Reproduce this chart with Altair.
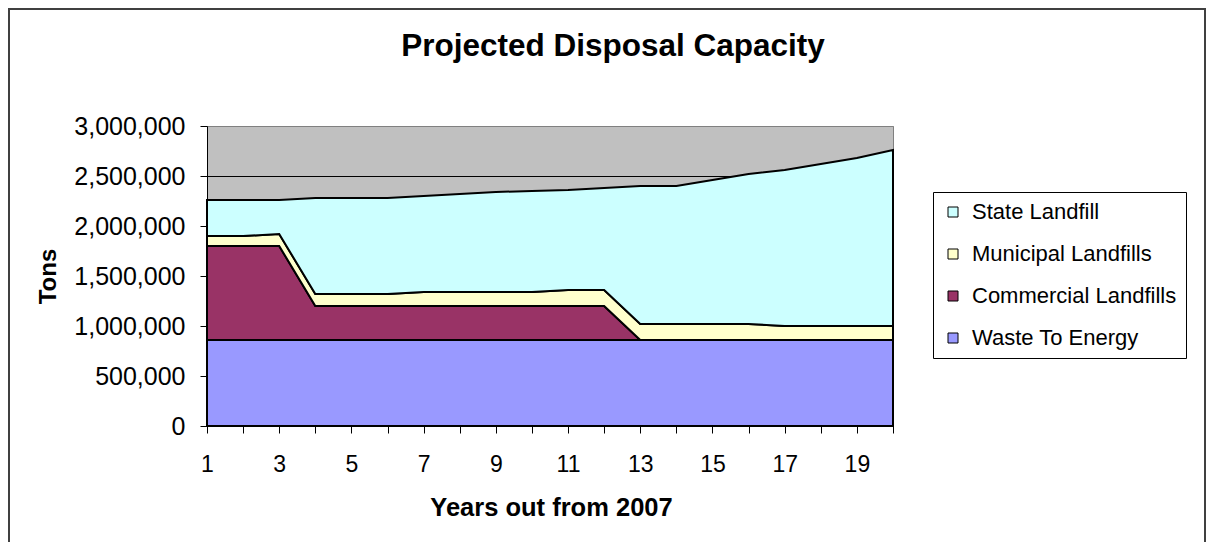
import altair as alt
import pandas as pd

# ---- data ----
years = [1, 2, 3, 4, 5, 6, 7, 8, 9, 10, 11, 12, 13, 14, 15, 16, 17, 18, 19, 20]
waste_to_energy = [860000, 860000, 860000, 860000, 860000, 860000, 860000, 860000, 860000, 860000,
                   860000, 860000, 860000, 860000, 860000, 860000, 860000, 860000, 860000, 860000]
commercial_landfills = [940000, 940000, 940000, 340000, 340000, 340000, 340000, 340000, 340000, 340000,
                        340000, 340000, 0, 0, 0, 0, 0, 0, 0, 0]
municipal_landfills = [100000, 100000, 120000, 120000, 120000, 120000, 140000, 140000, 140000, 140000,
                       160000, 160000, 160000, 160000, 160000, 160000, 140000, 140000, 140000, 140000]
state_landfill = [360000, 360000, 340000, 960000, 960000, 960000, 960000, 980000, 1000000, 1010000,
                  1000000, 1020000, 1380000, 1380000, 1440000, 1500000, 1560000, 1620000, 1680000, 1760000]

series_names = ["State Landfill", "Municipal Landfills", "Commercial Landfills", "Waste To Energy"]
series_colors = ["#CCFFFF", "#FFFFCC", "#993366", "#9999FF"]
y_ticks = [0, 500000, 1000000, 1500000, 2000000, 2500000, 3000000]

title_text = "Projected Disposal Capacity"
x_title = "Years out from 2007"
y_title = "Tons"

FONT = "Liberation Sans, Arial, sans-serif"

series_values = {
    "Waste To Energy": waste_to_energy,
    "Commercial Landfills": commercial_landfills,
    "Municipal Landfills": municipal_landfills,
    "State Landfill": state_landfill,
}
stack_rank = {"Waste To Energy": 0, "Commercial Landfills": 1,
              "Municipal Landfills": 2, "State Landfill": 3}

rows = []
for name, vals in series_values.items():
    for yr, v in zip(years, vals):
        rows.append({"year": yr, "tons": v, "source": name, "rank": stack_rank[name]})
df = pd.DataFrame(rows)

W, H = 686, 300

areas = alt.Chart(df).mark_area(
    stroke="black", strokeWidth=2, strokeJoin="miter", interpolate="linear", opacity=1
).encode(
    x=alt.X("year:Q",
            scale=alt.Scale(domain=[years[0], years[-1]], nice=False, zero=False),
            axis=alt.Axis(values=years,
                          labelExpr="datum.value % 2 == 1 ? datum.label : ''",
                          title=x_title,
                          grid=False,
                          domainColor="black", domainWidth=1,
                          tickColor="black", tickSize=7, tickWidth=1,
                          labelFont=FONT, labelFontSize=23, labelColor="black",
                          labelPadding=20, labelFlush=False, labelOverlap=False,
                          titleFont=FONT, titleFontSize=25.5, titleFontWeight="bold",
                          titleColor="black", titleX=344, titleY=89,
                          titleAlign="center", titleBaseline="alphabetic")),
    y=alt.Y("tons:Q", stack="zero",
            scale=alt.Scale(domain=[0, 3000000], nice=False),
            axis=alt.Axis(values=y_ticks, format=",.0f",
                          title=y_title,
                          grid=True,
                          gridColor={"condition": {"test": "datum.value >= 3000000", "value": "#808080"},
                                     "value": "#000000"},
                          gridWidth=1,
                          domainColor="black", domainWidth=1,
                          tickColor="black", tickSize=7, tickWidth=1,
                          labelFont=FONT, labelFontSize=25, labelColor="black",
                          labelPadding=15, labelFlush=False, labelLimit=300,
                          titleFont=FONT, titleFontSize=24, titleFontWeight="bold",
                          titleColor="black", titleX=-152, titleY=150, titleAngle=270,
                          titleAlign="center", titleBaseline="alphabetic")),
    color=alt.Color("source:N",
                    scale=alt.Scale(domain=series_names, range=series_colors),
                    legend=alt.Legend(title=None, orient="none", legendX=726, legendY=66,
                                      symbolType="square", symbolSize=100,
                                      symbolStrokeColor="black", symbolStrokeWidth=1,
                                      symbolOpacity=1,
                                      labelFont=FONT, labelFontSize=22, labelColor="black",
                                      labelLimit=400,
                                      labelOffset=8, rowPadding=20, padding=9,
                                      strokeColor="black", fillColor="white",
                                      cornerRadius=0)),
    order=alt.Order("rank:Q", sort="ascending"),
)

title_df = pd.DataFrame({"t": [title_text]})
title_mark = alt.Chart(title_df).mark_text(
    font=FONT, fontSize=31.5, fontWeight="bold", color="black",
    align="center", baseline="alphabetic"
).encode(text="t:N", x=alt.value(406), y=alt.value(-70))

frame_df = pd.DataFrame({"k": [0]})
frame = alt.Chart(frame_df).mark_rect(
    fillOpacity=0, stroke="#404040", strokeWidth=2
).encode(x=alt.value(-198), x2=alt.value(998), y=alt.value(-117), y2=alt.value(419))

chart = alt.layer(frame, areas, title_mark).properties(
    width=W, height=H,
    padding={"left": 199, "top": 118, "right": 313, "bottom": 116},
    autosize=alt.AutoSizeParams(type="none"),
    background="white",
).configure_view(
    fill="#C0C0C0", stroke="#808080", strokeWidth=1
)

chart.save("out.html", embed_options={"renderer": "svg", "actions": False})
